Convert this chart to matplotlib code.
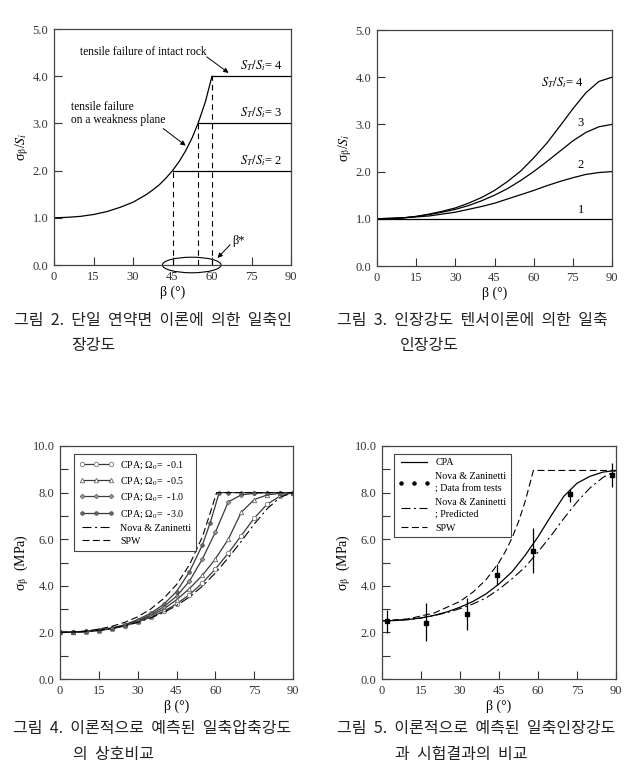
import matplotlib
matplotlib.use("Agg")
import matplotlib.pyplot as plt
from matplotlib.patches import Ellipse
from matplotlib.lines import Line2D
from matplotlib.ticker import MultipleLocator, FormatStrFormatter

plt.rcParams['font.family'] = ['Liberation Serif', 'DejaVu Serif']
plt.rcParams['mathtext.fontset'] = 'stix'
plt.rcParams['lines.scale_dashes'] = False

# --- Fig 2: single plane of weakness
beta_weak = [0, 5, 10, 15, 20, 25, 30, 35, 37.5, 40, 42.5, 45, 47.5, 50, 52.5, 54.7, 57.5, 60]
sig_weak = [1.0, 1.01, 1.03, 1.07, 1.13, 1.22, 1.33, 1.49, 1.59, 1.70, 1.84, 2.0, 2.19, 2.42, 2.70, 3.0, 3.46, 4.0]
ratio_levels = [2, 3, 4]
beta_star = [45, 54.7, 60]

# --- Fig 3: tensor theory
beta_t = [0, 5, 10, 15, 20, 25, 30, 35, 40, 45, 50, 55, 60, 65, 70, 75, 80, 85, 90]
sig_r1 = [1.0] * 19
sig_r2 = [1.0, 1.0, 1.02, 1.04, 1.06, 1.10, 1.14, 1.20, 1.26, 1.33, 1.42, 1.51, 1.60, 1.70, 1.79, 1.87, 1.94, 1.98, 2.0]
sig_r3 = [1.0, 1.01, 1.02, 1.05, 1.09, 1.14, 1.20, 1.28, 1.38, 1.50, 1.64, 1.81, 2.0, 2.21, 2.43, 2.65, 2.83, 2.95, 3.0]
sig_r4 = [1.0, 1.01, 1.02, 1.05, 1.10, 1.16, 1.23, 1.33, 1.45, 1.60, 1.79, 2.01, 2.29, 2.60, 2.96, 3.33, 3.67, 3.91, 4.0]

# --- Fig 4: compressive strength comparison
beta_c = [0, 5, 10, 15, 20, 25, 30, 35, 40, 45, 50, 55, 60, 65, 70, 75, 80, 85, 90]
cpa_01 = [2.0, 2.01, 2.03, 2.08, 2.16, 2.28, 2.45, 2.65, 2.9, 3.22, 3.62, 4.12, 4.72, 5.4, 6.15, 6.9, 7.5, 7.85, 8.0]
cpa_05 = [2.0, 2.01, 2.04, 2.09, 2.17, 2.3, 2.48, 2.7, 3.0, 3.4, 3.88, 4.45, 5.15, 6.0, 7.15, 7.7, 7.9, 7.97, 8.0]
cpa_10 = [2.0, 2.01, 2.04, 2.09, 2.17, 2.31, 2.5, 2.75, 3.1, 3.55, 4.2, 5.15, 6.3, 7.6, 7.9, 7.97, 8.0, 8.0, 8.0]
beta_c3 = [0, 5, 10, 15, 20, 25, 30, 35, 40, 45, 50, 55, 58, 61.5, 65, 70, 75, 80, 85, 90]
cpa_30 = [2.0, 2.01, 2.04, 2.1, 2.19, 2.33, 2.55, 2.82, 3.2, 3.75, 4.6, 5.75, 6.7, 8.0, 8.0, 8.0, 8.0, 8.0, 8.0, 8.0]
nova_c = [2.0, 2.01, 2.04, 2.09, 2.17, 2.28, 2.43, 2.62, 2.85, 3.15, 3.52, 3.98, 4.55, 5.2, 5.9, 6.65, 7.3, 7.8, 8.0]
beta_spw = [0, 5, 10, 15, 20, 25, 30, 35, 40, 45, 50, 55, 57.5, 60.5, 90]
spw_c = [2.0, 2.02, 2.06, 2.14, 2.26, 2.43, 2.67, 3.0, 3.45, 4.05, 4.9, 6.1, 6.95, 8.0, 8.0]

# --- Fig 5: tensile strength vs tests
beta_d = [0, 5, 10, 15, 20, 25, 30, 35, 40, 45, 50, 55, 60, 65, 70, 75, 80, 85, 90]
cpa_t = [2.5, 2.51, 2.55, 2.62, 2.73, 2.88, 3.08, 3.33, 3.65, 4.08, 4.6, 5.3, 6.1, 7.0, 7.85, 8.4, 8.7, 8.88, 8.95]
nova_t = [2.5, 2.51, 2.55, 2.62, 2.72, 2.85, 3.02, 3.22, 3.48, 3.85, 4.3, 4.8, 5.45, 6.15, 6.9, 7.6, 8.2, 8.65, 8.95]
beta_spw_t = [0, 10, 20, 30, 35, 40, 45, 47.5, 50, 52.5, 55, 57, 58.2, 90]
spw_t = [2.5, 2.58, 2.83, 3.33, 3.73, 4.26, 5.0, 5.48, 6.05, 6.75, 7.6, 8.43, 8.95, 8.95]
test_beta = [2, 16.8, 32.5, 44.3, 58.2, 72.2, 88.3]
test_sig = [2.47, 2.42, 2.8, 4.46, 5.51, 7.93, 8.76]
test_lo = [1.97, 1.62, 2.1, 4.05, 4.54, 7.61, 8.23]
test_hi = [2.97, 3.25, 3.46, 4.95, 6.47, 8.14, 9.28]

W, H = 626, 779
fig = plt.figure(figsize=(W / 100, H / 100), dpi=100)


def box(l, t, r, b):
    return [l / W, 1 - b / H, (r - l) / W, (b - t) / H]


def style(ax, ymax, ystep, minor=None):
    ax.set_xlim(0, 90)
    ax.set_ylim(0, ymax)
    ax.xaxis.set_major_locator(MultipleLocator(15))
    ax.yaxis.set_major_locator(MultipleLocator(ystep))
    ax.yaxis.set_major_formatter(FormatStrFormatter('%.1f'))
    if minor:
        ax.yaxis.set_minor_locator(MultipleLocator(minor))
    ax.tick_params(direction='in', length=5.5, width=0.8, labelsize=9, pad=4, colors='#333')
    ax.tick_params(which='minor', direction='in', length=5.5, width=0.8, colors='#333')
    for s in ax.spines.values():
        s.set_color('#444')
        s.set_linewidth(0.9)
    ax.set_xlabel('β (°)', fontsize=10, labelpad=2)


def legend_style(leg):
    leg.get_frame().set_linewidth(0.8)
    for t in leg.get_texts():
        t.set_linespacing(1.35)


# Fig 2
ax1 = fig.add_axes(box(54, 29, 291, 265))
style(ax1, 5, 1)
ax1.plot(beta_weak, sig_weak, color='k', lw=0.9)
for lev, bs in zip(ratio_levels, beta_star):
    ax1.plot([bs, 90], [lev, lev], color='k', lw=0.9)
    ax1.plot([bs, bs], [0, lev], color='k', lw=0.8, dashes=(4, 3))
    ax1.text(70.7, lev + 0.22, r'$S_T/S_i$= %d' % lev, fontsize=9, va='center')
ax1.add_patch(Ellipse((52.3, 0.0), 22.3, 0.33, fill=False, lw=0.8, clip_on=False))
arrow = dict(arrowstyle='-|>', lw=0.7, color='k', mutation_scale=7, shrinkA=0, shrinkB=0)
ax1.text(9.8, 4.51, 'tensile failure of intact rock', fontsize=8.3, va='center')
ax1.annotate('', xy=(66.3, 4.07), xytext=(58, 4.41), arrowprops=arrow)
ax1.text(6.6, 3.21, 'tensile failure\non a weakness plane', fontsize=8.3, va='center',
         linespacing=1.1)
ax1.annotate('', xy=(50, 2.53), xytext=(41.5, 2.89), arrowprops=arrow)
ax1.annotate('', xy=(62.1, 0.15), xytext=(66.9, 0.43), arrowprops=arrow)
ax1.text(67.8, 0.5, r'β*', fontsize=9, va='center')
ax1.set_ylabel(r'σ$_\mathrm{β}$/$S_i$', fontsize=10, labelpad=1)

# Fig 3
ax2 = fig.add_axes(box(377, 30, 612, 266))
style(ax2, 5, 1)
for sig in (sig_r1, sig_r2, sig_r3, sig_r4):
    ax2.plot(beta_t, sig, color='k', lw=0.9)
ax2.text(79, 3.89, r'$S_T/S_i$= 4', fontsize=9, va='center', ha='right')
for lab, yy in zip(['3', '2', '1'], [3.02, 2.15, 1.19]):
    ax2.text(78, yy, lab, fontsize=9, va='center', ha='center')
ax2.set_ylabel(r'σ$_\mathrm{β}$/$S_i$', fontsize=10, labelpad=1)

# Fig 4
ax3 = fig.add_axes(box(60, 446, 293, 679))
style(ax3, 10, 2, 1)
lc = '#3a3a3a'
ax3.plot(beta_c, cpa_01, color=lc, lw=0.9, marker='o', ms=3.2, mfc='white', mec='#777', mew=0.6,
         label=r'CPA; Ω$_0$=  -0.1')
ax3.plot(beta_c, cpa_05, color=lc, lw=0.9, marker='^', ms=3.2, mfc='white', mec='#666', mew=0.6,
         label=r'CPA; Ω$_0$=  -0.5')
ax3.plot(beta_c, cpa_10, color=lc, lw=0.9, marker='D', ms=2.4, mfc='#999', mec='#555', mew=0.5,
         label=r'CPA; Ω$_0$=  -1.0')
ax3.plot(beta_c3, cpa_30, color=lc, lw=0.9, marker='o', ms=2.6, mfc='#666', mec='#444', mew=0.5,
         label=r'CPA; Ω$_0$=  -3.0')
ax3.plot(beta_c, nova_c, color='k', lw=0.8, dashes=(6.5, 2.5, 1.5, 2.5), label='Nova & Zaninetti')
ax3.plot(beta_spw, spw_c, color='k', lw=0.8, dashes=(5, 2.5), label='SPW')
leg3 = ax3.legend(loc='upper left', bbox_to_anchor=(0.06, 0.966), fontsize=7.2, numpoints=3,
                  handlelength=3.5, handletextpad=0.6, labelspacing=0.42, borderpad=0.5,
                  fancybox=False, framealpha=1, edgecolor='#444', borderaxespad=0)
legend_style(leg3)
ax3.set_ylabel('σ$_\\mathrm{β}$  (MPa)', fontsize=10, labelpad=1)

# Fig 5
ax4 = fig.add_axes(box(382, 446, 616, 679))
style(ax4, 10, 2, 1)
ax4.plot(beta_d, cpa_t, color='k', lw=0.9)
ax4.plot(beta_d, nova_t, color='k', lw=0.8, dashes=(6.5, 2.5, 1.5, 2.5))
ax4.plot(beta_spw_t, spw_t, color='k', lw=0.8, dashes=(5, 2.5))
yerr = [[s - lo for s, lo in zip(test_sig, test_lo)], [hi - s for s, hi in zip(test_sig, test_hi)]]
ax4.errorbar(test_beta, test_sig, yerr=yerr, fmt='s', ms=2.2, color='k', ecolor='k',
             elinewidth=0.9, capsize=0)
handles = [Line2D([], [], color='k', lw=0.9),
           Line2D([], [], color='k', ls='none', marker='o', ms=2.2),
           Line2D([], [], color='k', lw=0.8, dashes=(6.5, 2.5, 1.5, 2.5)),
           Line2D([], [], color='k', lw=0.8, dashes=(5, 2.5))]
labels = ['CPA', 'Nova & Zaninetti\n; Data from tests', 'Nova & Zaninetti\n; Predicted', 'SPW']
leg4 = ax4.legend(handles, labels, loc='upper left', bbox_to_anchor=(0.05, 0.966), fontsize=7.2,
                  numpoints=3, handlelength=3.2, handletextpad=0.5, labelspacing=0.5,
                  borderpad=0.45, fancybox=False, framealpha=1, edgecolor='#444', borderaxespad=0)
legend_style(leg4)
ax4.set_ylabel('σ$_\\mathrm{β}$  (MPa)', fontsize=10, labelpad=1)

# captions
cap = dict(fontsize=11.5, family=['Noto Sans CJK KR', 'DejaVu Sans'], va='center', color='#222')
fig.text(14 / W, 1 - 320 / H, '그림  2.  단일  연약면  이론에  의한  일축인', **cap)
fig.text(71 / W, 1 - 345 / H, '장강도', **cap)
fig.text(337 / W, 1 - 320 / H, '그림  3.  인장강도  텐서이론에  의한  일축', **cap)
fig.text(400 / W, 1 - 345 / H, '인장강도', **cap)
fig.text(13 / W, 1 - 729 / H, '그림  4.  이론적으로  예측된  일축압축강도', **cap)
fig.text(73 / W, 1 - 754 / H, '의  상호비교', **cap)
fig.text(337 / W, 1 - 729 / H, '그림  5.  이론적으로  예측된  일축인장강도', **cap)
fig.text(395 / W, 1 - 754 / H, '과  시험결과의  비교', **cap)

fig.savefig('out.png', dpi=100)
